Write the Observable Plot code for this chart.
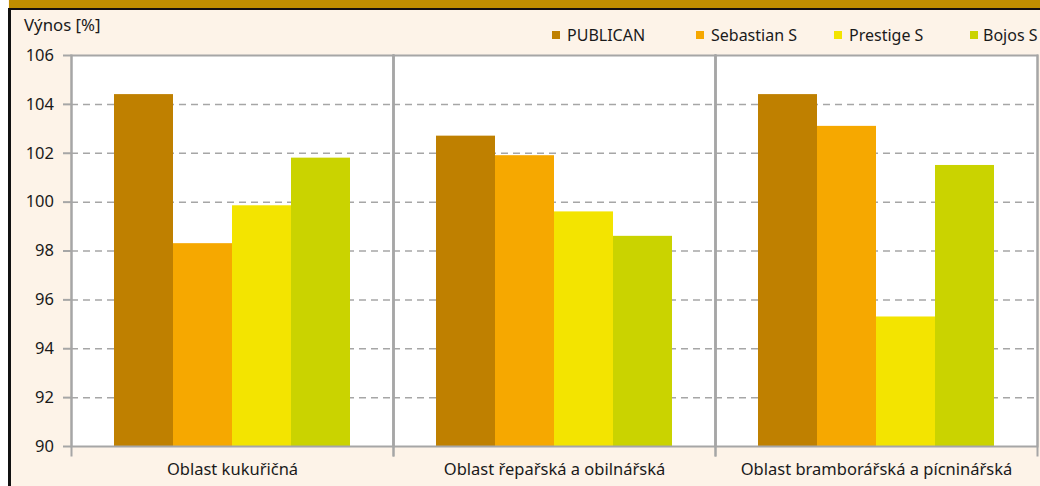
<!DOCTYPE html>
<html><head><meta charset="utf-8">
<script src="https://cdn.jsdelivr.net/npm/d3@7"></script>
<script src="https://cdn.jsdelivr.net/npm/@observablehq/plot@0.6"></script>
<style>
html,body{margin:0;padding:0;background:#fff;}
#wrap{position:relative;width:1040px;height:486px;overflow:hidden;background:#FDF3E8;font-family:"Noto Sans",sans-serif;color:#1a1a1a;}
#chart{position:absolute;left:0;top:0;}
#chart svg text{font-size:16.5px !important;}
#band{position:absolute;left:9px;top:0;width:1031px;height:8px;background:#C18E00;border-bottom:2px solid #151010;}
#lwhite{position:absolute;left:0;top:0;width:8px;height:486px;background:#fff;}
#lb{position:absolute;left:8px;top:8px;width:3px;height:478px;background:#111;}
#ylab{position:absolute;left:24px;top:14px;font-size:16.8px;line-height:22px;}
#legend{position:absolute;left:0;top:24px;width:1040px;height:22px;font-size:16px;line-height:22px;}
.item{position:absolute;top:0;display:flex;align-items:center;white-space:nowrap;}
.item:nth-child(1){left:552px;}
.item:nth-child(2){left:696px;}
.item:nth-child(3){left:834px;}
.item:nth-child(4){left:970px;}
.sw{width:8px;height:8px;margin-right:7px;flex:none;}
.item:nth-child(4) .sw{margin-right:5px;}
</style></head>
<body>
<div id="wrap">
  <div id="chart"></div>
  <div id="lwhite"></div>
  <div id="band"></div>
  <div id="lb"></div>
  <div id="ylab">Výnos [%]</div>
  <div id="legend"></div>
</div>
<script>
const groups = ["Oblast kukuřičná", "Oblast řepařská a obilnářská", "Oblast bramborářská a pícninářská"];
const series = ["PUBLICAN", "Sebastian S", "Prestige S", "Bojos S"];
const colors = ["#BF8000", "#F6A800", "#F3E400", "#CAD300"];
const publican  = [104.4, 102.7, 104.4];
const sebastian = [98.3, 101.9, 103.1];
const prestige  = [99.85, 99.6, 95.3];
const bojos     = [101.8, 98.6, 101.5];
const yTicks = [90, 92, 94, 96, 98, 100, 102, 104, 106];

const seriesValues = [publican, sebastian, prestige, bojos];
const data = [];
groups.forEach((g, gi) => series.forEach((s, si) => data.push({group: g, series: s, value: seriesValues[si][gi]})));

const grey = "#A6A6A6";
const chart = Plot.plot({
  width: 1040,
  height: 486,
  marginLeft: 71,
  marginTop: 55,
  marginRight: 3,
  marginBottom: 40,
  style: {background: "transparent", fontFamily: "'Noto Sans', sans-serif", fontSize: "16.5px", color: "#1a1a1a"},
  fx: {domain: groups, padding: 0, label: null, axis: null},
  x: {domain: series, paddingInner: 0, paddingOuter: 0.7, axis: null},
  y: {domain: [90, 106], label: null, axis: null},
  color: {domain: series, range: colors},
  marks: [
    Plot.frame({fill: "white", stroke: null}),
    Plot.gridY(yTicks.filter(d => d > 90 && d < 106), {stroke: grey, strokeOpacity: 1, strokeWidth: 1.5, strokeDasharray: "7,5"}),
    Plot.barY(data, {fx: "group", x: "series", y1: 90, y2: "value", fill: "series"}),
    Plot.frame({stroke: grey, strokeWidth: 2}),
    Plot.frame({anchor: "left", stroke: grey, strokeWidth: 2, insetBottom: -9}),
    Plot.frame({anchor: "right", stroke: grey, strokeWidth: 2, insetBottom: -9}),
    Plot.axisY({ticks: yTicks, tickSize: 8, tickPadding: 9.5, stroke: grey, strokeWidth: 2, fontSize: 16.5, fill: "#1a1a1a", label: null}),
    Plot.axisFx({anchor: "bottom", tickSize: 0, tickPadding: 17, fontSize: 16.5, fill: "#1a1a1a", label: null})
  ]
});
document.getElementById("chart").appendChild(chart);

const legend = document.getElementById("legend");
series.forEach((s, i) => {
  const it = document.createElement("div");
  it.className = "item";
  const sw = document.createElement("div");
  sw.className = "sw";
  sw.style.background = colors[i];
  const t = document.createElement("span");
  t.textContent = s;
  it.appendChild(sw); it.appendChild(t);
  legend.appendChild(it);
});
</script>
</body></html>
